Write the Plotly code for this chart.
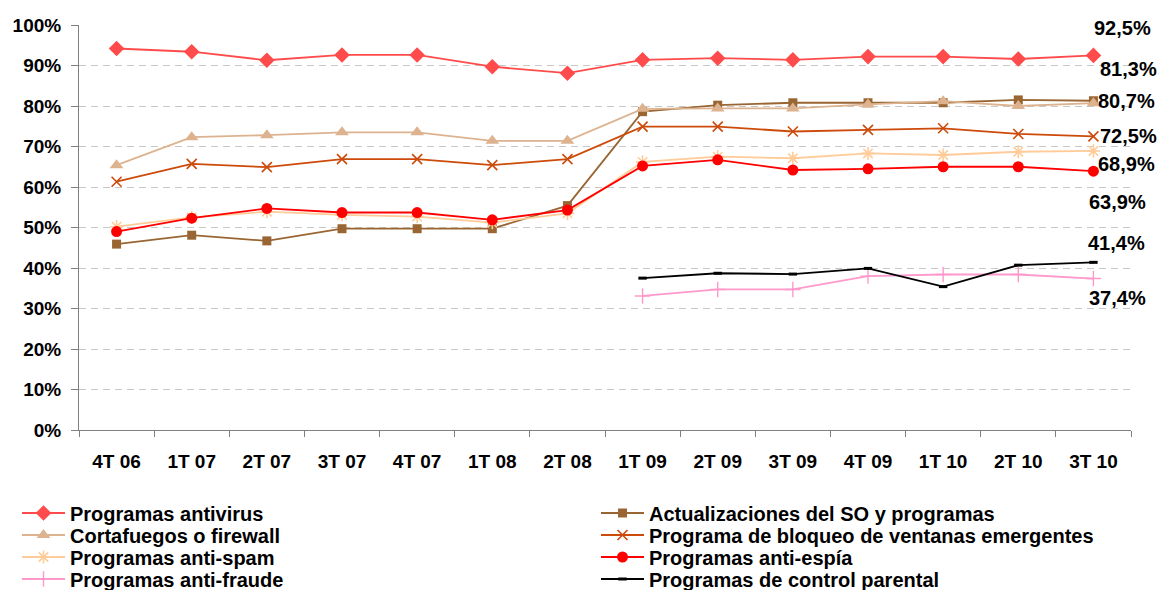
import plotly.graph_objects as go

# Trimestres
quarters = ["4T 06", "1T 07", "2T 07", "3T 07", "4T 07", "1T 08", "2T 08",
            "1T 09", "2T 09", "3T 09", "4T 09", "1T 10", "2T 10", "3T 10"]

# Porcentaje de uso de cada medida de seguridad (None = sin dato)
antivirus = [94.2, 93.4, 91.3, 92.6, 92.6, 89.7, 88.1, 91.4, 91.8, 91.4, 92.2, 92.2, 91.6, 92.5]
actualizaciones = [45.9, 48.1, 46.7, 49.7, 49.7, 49.7, 55.4, 78.6, 80.2, 80.8, 80.8, 80.8, 81.5, 81.3]
cortafuegos = [65.4, 72.3, 72.8, 73.5, 73.5, 71.4, 71.4, 79.3, 79.4, 79.4, 80.4, 81.2, 80.0, 80.7]
bloqueo = [61.3, 65.7, 64.9, 66.9, 66.9, 65.4, 66.9, 74.9, 74.9, 73.7, 74.1, 74.5, 73.1, 72.5]
anti_spam = [50.2, 52.5, 53.9, 53.1, 52.7, 51.2, 53.5, 66.2, 67.5, 67.1, 68.3, 67.9, 68.7, 68.9]
anti_espia = [49.0, 52.3, 54.7, 53.7, 53.7, 51.9, 54.3, 65.2, 66.7, 64.2, 64.5, 65.0, 65.0, 63.9]
anti_fraude = [None, None, None, None, None, None, None, 33.1, 34.7, 34.7, 38.0, 38.4, 38.4, 37.4]
control_parental = [None, None, None, None, None, None, None, 37.5, 38.7, 38.5, 39.9, 35.4, 40.7, 41.4]

series_names = [
    "Programas antivirus",
    "Actualizaciones del SO y programas",
    "Cortafuegos o firewall",
    "Programa de bloqueo de ventanas emergentes",
    "Programas anti-spam",
    "Programas anti-espía",
    "Programas anti-fraude",
    "Programas de control parental",
]
series_values = [antivirus, actualizaciones, cortafuegos, bloqueo,
                 anti_spam, anti_espia, anti_fraude, control_parental]

# Estilo de cada serie: color, símbolo, tamaño, grosor de borde del marcador
styles = [
    ("#FF4B4B", "diamond", 12, 0),
    ("#996633", "square", 9, 0),
    ("#DDB38F", "triangle-up", 12, 0),
    ("#CC4A0A", "x-thin-open", 10, 1.6),
    ("#FFCC99", "asterisk-open", 11, 1.6),
    ("#FF0000", "circle", 11, 0),
    ("#FF99CC", "cross-thin-open", 11, 1.4),
    ("#000000", "line-ew-open", 6, 3),
]

# Desplazamiento (px) de la etiqueta del último valor de cada serie
label_shift = [27, 32, 2, 0, -13, -31, -19, 19]
label_xshift = [3, 9, 7, 9, 7, -2, -2, -3]

# Leyenda en dos columnas: posición (px del contenedor) de cada entrada
legend_cols_px = [17, 596, 17, 596, 17, 596, 17, 596]
legend_rows_px = [513, 513, 535, 535, 557, 557, 579, 579]

W, H = 1162, 590
FONT = "Liberation Sans, Arial, sans-serif"

fig = go.Figure()
legends = {}
for i, (name, vals, (color, sym, size, lw)) in enumerate(
        zip(series_names, series_values, styles)):
    key = "legend" if i == 0 else f"legend{i + 1}"
    fig.add_trace(go.Scatter(
        x=quarters, y=vals, name=name, mode="lines+markers",
        line=dict(color=color, width=1.8),
        marker=dict(symbol=sym, size=size, color=color,
                    line=dict(color=color, width=lw)),
        connectgaps=False, legend=key,
    ))
    legends[key] = dict(
        x=legend_cols_px[i] / W, y=1 - legend_rows_px[i] / H,
        xref="container", yref="container",
        xanchor="left", yanchor="middle",
        font=dict(size=20, weight="bold", family=FONT, color="#000000"),
        itemwidth=43, bgcolor="rgba(0,0,0,0)", borderwidth=0,
    )

# Etiquetas con el último valor de cada serie
for vals, dy, dx in zip(series_values, label_shift, label_xshift):
    v = vals[-1]
    fig.add_annotation(
        x=quarters[-1], y=v, xref="x", yref="y",
        text=f"{v:.1f}%".replace(".", ","),
        showarrow=False, xanchor="left", yanchor="middle",
        xshift=dx - 4, yshift=dy,
        font=dict(family=FONT, size=20, color="#000000", weight="bold"),
    )

fig.update_layout(
    width=W, height=H,
    margin=dict(l=79, r=31, t=25, b=160, autoexpand=False),
    paper_bgcolor="white", plot_bgcolor="white",
    font=dict(family=FONT, color="#000000"),
    showlegend=True,
    xaxis=dict(
        type="category", range=[-0.5, 13.5],
        showline=True, linecolor="#808080", linewidth=1,
        ticks="outside", ticklen=6, tickcolor="#808080", tickson="boundaries",
        showgrid=False, ticklabelstandoff=14,
        tickfont=dict(size=19, weight="bold"),
    ),
    yaxis=dict(
        range=[0, 100], dtick=10, ticksuffix="%",
        showline=True, linecolor="#808080", linewidth=1,
        ticks="outside", ticklen=7, tickcolor="#808080",
        showgrid=True, gridcolor="#C8C8C8", griddash="7px,5px", gridwidth=1,
        zeroline=False, ticklabelstandoff=6,
        tickfont=dict(size=19, weight="bold"),
    ),
    **legends,
)

fig.write_html("out.html")
